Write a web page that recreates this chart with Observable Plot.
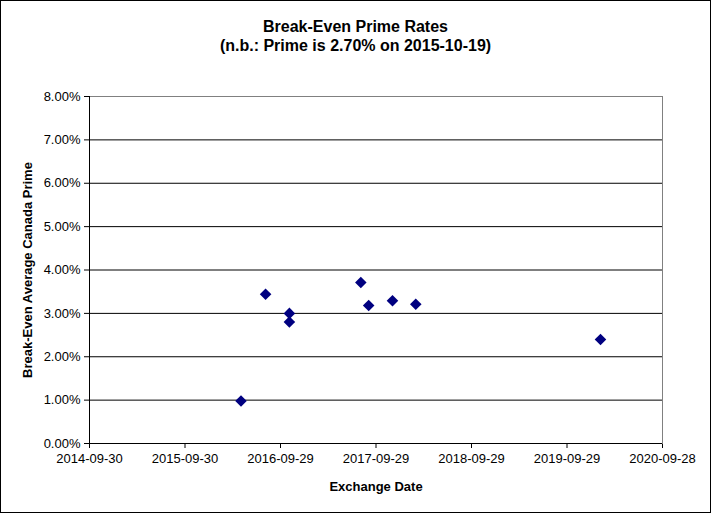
<!DOCTYPE html>
<html>
<head>
<meta charset="utf-8">
<script src="https://cdn.jsdelivr.net/npm/d3@7"></script>
<script src="https://cdn.jsdelivr.net/npm/@observablehq/plot@0.6"></script>
<style>
  html, body { margin: 0; padding: 0; background: white; }
  #wrap { position: relative; width: 711px; height: 513px; overflow: hidden; background: white; font-family: "Liberation Sans", Arial, sans-serif; }
  #frame { position: absolute; left: 0; top: 0; width: 711px; height: 513px; box-sizing: border-box; border: 1px solid black; pointer-events: none; }
  #title { position: absolute; left: 0; width: 711px; top: 17px; text-align: center; font-weight: bold; font-size: 16px; line-height: 19px; color: black; }
  #chart { position: absolute; left: 0; top: 0; }
</style>
</head>
<body>
<div id="wrap">
  <div id="chart"></div>
  <div id="title">Break-Even Prime Rates<br>(n.b.: Prime is 2.70% on 2015-10-19)</div>
  <div id="frame"></div>
</div>
<script>
// Data
const exchangeDates = ["2016-05-01", "2016-08-03", "2016-11-02", "2016-11-02", "2017-08-02", "2017-09-01", "2017-12-01", "2018-02-28", "2020-02-04"];
const breakEvenPrime = [0.0098, 0.0344, 0.0300, 0.0280, 0.0371, 0.0318, 0.0329, 0.0321, 0.0240];

const xTickLabels = ["2014-09-30", "2015-09-30", "2016-09-29", "2017-09-29", "2018-09-29", "2019-09-29", "2020-09-28"];
const yTickValues = [0, 0.01, 0.02, 0.03, 0.04, 0.05, 0.06, 0.07, 0.08];
const gridValues = [0.01, 0.02, 0.03, 0.04, 0.05, 0.06, 0.07];

const parse = d3.utcParse("%Y-%m-%d");
const data = exchangeDates.map((d, i) => ({date: parse(d), rate: breakEvenPrime[i]}));
const xTicks = xTickLabels.map(parse);

const chart = Plot.plot({
  width: 711,
  height: 513,
  marginLeft: 89,
  marginRight: 49,
  marginTop: 96,
  marginBottom: 70,
  style: {fontFamily: "'Liberation Sans', Arial, sans-serif", fontSize: "13px", color: "black", background: "transparent", overflow: "visible"},
  x: {type: "utc", domain: [xTicks[0], xTicks[xTicks.length - 1]], ticks: xTicks, tickFormat: d3.utcFormat("%Y-%m-%d"), tickSize: 5, tickPadding: 5, label: null},
  y: {domain: [0, 0.08], ticks: yTickValues, tickFormat: d3.format(".2%"), tickSize: 5, tickPadding: 4, label: null},
  marks: [
    Plot.ruleY(gridValues, {stroke: "black", strokeWidth: 1}),
    Plot.frame({stroke: "#808080", strokeWidth: 1}),
    Plot.ruleY([0], {stroke: "black", strokeWidth: 1}),
    Plot.ruleX([xTicks[0]], {stroke: "black", strokeWidth: 1}),
    Plot.dot(data, {x: "date", y: "rate", symbol: "diamond2", r: 5.2, fill: "#000080", stroke: "none"}),
    Plot.text(["Exchange Date"], {frameAnchor: "bottom", dy: 47, fontWeight: "bold", fontSize: 13, fill: "black"}),
    Plot.text(["Break-Even Average Canada Prime"], {frameAnchor: "left", dx: -62, rotate: -90, textAnchor: "middle", fontWeight: "bold", fontSize: 13, fill: "black"})
  ]
});
document.getElementById("chart").appendChild(chart);
</script>
</body>
</html>
